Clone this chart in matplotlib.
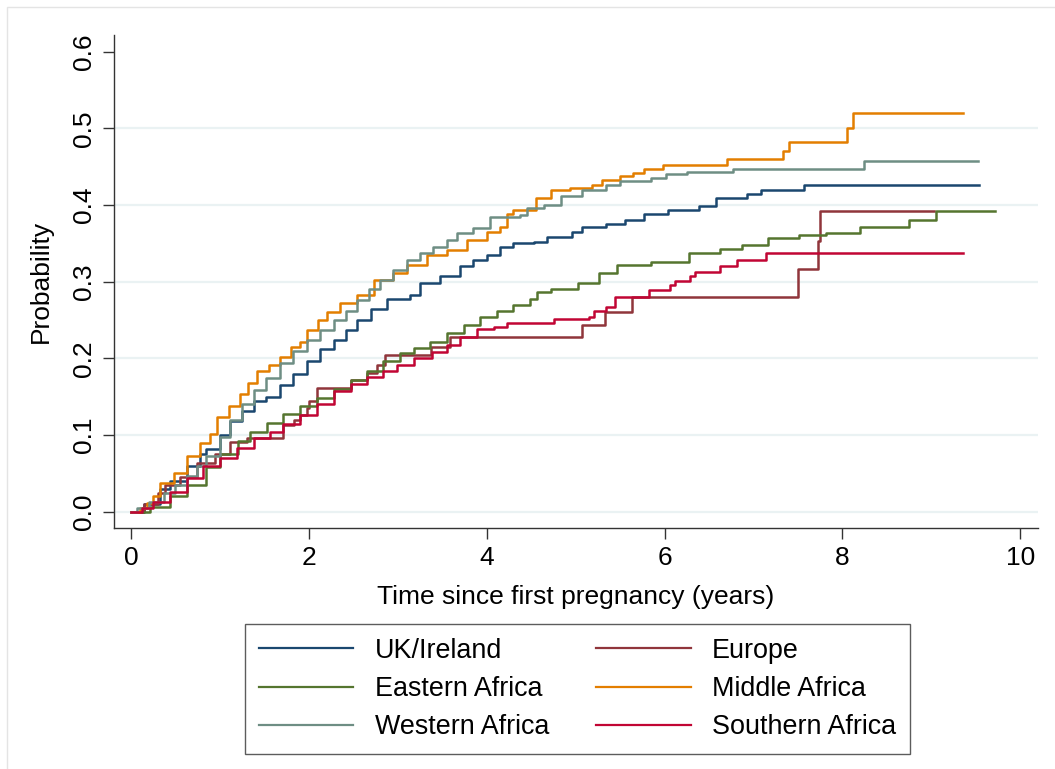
import numpy as np
import matplotlib
matplotlib.use("Agg")
import matplotlib.pyplot as plt
from matplotlib.patches import Rectangle

plt.rcParams['font.family'] = ['Liberation Sans', 'DejaVu Sans']

# Kaplan-Meier failure estimates: step times (years) and cumulative probability
uk_t = [0, 0.15, 0.33, 0.44, 0.63, 0.78, 0.85, 1.0, 1.12, 1.25, 1.38, 1.52, 1.68, 1.82, 1.98,
        2.13, 2.28, 2.42, 2.54, 2.70, 2.88, 3.14, 3.25, 3.48, 3.70, 3.85, 4.00, 4.15, 4.30,
        4.53, 4.68, 4.96, 5.07, 5.34, 5.56, 5.77, 6.04, 6.39, 6.58, 6.93, 7.08, 7.57, 9.54]
uk_p = [0, 0.010, 0.030, 0.040, 0.059, 0.075, 0.082, 0.100, 0.118, 0.132, 0.144, 0.150, 0.165,
        0.180, 0.197, 0.212, 0.224, 0.237, 0.250, 0.265, 0.278, 0.283, 0.298, 0.307, 0.320,
        0.328, 0.335, 0.346, 0.350, 0.352, 0.359, 0.365, 0.372, 0.376, 0.380, 0.388, 0.394,
        0.399, 0.409, 0.414, 0.420, 0.426, 0.426]

eur_t = [0, 0.15, 0.30, 0.38, 0.55, 0.74, 0.95, 1.12, 1.31, 1.71, 1.83, 1.90, 1.98, 2.00, 2.09,
         2.47, 2.65, 2.77, 2.86, 3.38, 3.59, 5.07, 5.33, 5.63, 7.50, 7.73, 7.75, 9.03]
eur_p = [0, 0.010, 0.025, 0.035, 0.045, 0.064, 0.075, 0.091, 0.096, 0.113, 0.120, 0.126, 0.135,
         0.144, 0.161, 0.172, 0.181, 0.191, 0.204, 0.215, 0.228, 0.244, 0.260, 0.280, 0.316,
         0.353, 0.392, 0.392]

east_t = [0, 0.22, 0.44, 0.63, 0.85, 1.00, 1.20, 1.34, 1.53, 1.71, 1.90, 2.09, 2.28, 2.47, 2.65,
          2.84, 3.03, 3.18, 3.36, 3.55, 3.74, 3.93, 4.12, 4.30, 4.49, 4.57, 4.72, 5.03, 5.26,
          5.46, 5.85, 6.27, 6.62, 6.87, 7.16, 7.51, 7.82, 8.20, 8.75, 9.05, 9.71]
east_p = [0, 0.006, 0.020, 0.035, 0.058, 0.075, 0.092, 0.104, 0.116, 0.127, 0.138, 0.148, 0.160,
          0.172, 0.184, 0.196, 0.207, 0.213, 0.222, 0.233, 0.244, 0.254, 0.262, 0.270, 0.277,
          0.287, 0.291, 0.299, 0.312, 0.322, 0.326, 0.338, 0.343, 0.348, 0.357, 0.361, 0.364,
          0.371, 0.380, 0.392, 0.392]

mid_t = [0, 0.10, 0.18, 0.25, 0.33, 0.48, 0.63, 0.78, 0.89, 0.97, 1.10, 1.23, 1.32, 1.42, 1.55,
         1.68, 1.80, 1.90, 1.98, 2.10, 2.20, 2.35, 2.54, 2.73, 2.95, 3.10, 3.33, 3.55, 3.78,
         4.00, 4.15, 4.23, 4.30, 4.55, 4.72, 4.94, 5.19, 5.30, 5.50, 5.65, 5.77, 5.98, 6.70,
         7.33, 7.40, 8.05, 8.12, 9.35]
mid_p = [0, 0.005, 0.011, 0.020, 0.037, 0.050, 0.072, 0.089, 0.102, 0.124, 0.138, 0.154, 0.168,
         0.183, 0.192, 0.202, 0.215, 0.222, 0.237, 0.250, 0.261, 0.272, 0.283, 0.302, 0.311,
         0.322, 0.335, 0.341, 0.354, 0.365, 0.372, 0.389, 0.393, 0.409, 0.420, 0.422, 0.426,
         0.433, 0.438, 0.442, 0.447, 0.452, 0.460, 0.471, 0.483, 0.500, 0.520, 0.520]

west_t = [0, 0.07, 0.20, 0.37, 0.50, 0.63, 0.74, 0.85, 1.00, 1.12, 1.25, 1.38, 1.52, 1.68, 1.82,
          1.98, 2.13, 2.28, 2.42, 2.54, 2.68, 2.80, 2.95, 3.10, 3.25, 3.40, 3.55, 3.67, 3.85,
          4.04, 4.37, 4.45, 4.65, 4.84, 5.07, 5.34, 5.50, 5.85, 6.02, 6.25, 6.77, 8.24, 9.52]
west_p = [0, 0.005, 0.012, 0.024, 0.035, 0.046, 0.060, 0.072, 0.098, 0.120, 0.140, 0.159, 0.175,
          0.194, 0.210, 0.224, 0.237, 0.250, 0.262, 0.276, 0.290, 0.302, 0.315, 0.328, 0.337,
          0.346, 0.355, 0.363, 0.370, 0.385, 0.387, 0.396, 0.400, 0.412, 0.420, 0.426, 0.432,
          0.436, 0.441, 0.443, 0.447, 0.457, 0.457]

south_t = [0, 0.12, 0.25, 0.44, 0.63, 0.81, 1.00, 1.19, 1.38, 1.57, 1.71, 1.90, 2.09, 2.28, 2.47,
           2.65, 2.84, 2.99, 3.18, 3.39, 3.55, 3.70, 3.89, 4.08, 4.23, 4.76, 5.15, 5.21, 5.34,
           5.44, 5.83, 6.06, 6.12, 6.29, 6.34, 6.62, 6.81, 7.14, 9.36]
south_p = [0, 0.005, 0.013, 0.026, 0.044, 0.059, 0.070, 0.083, 0.096, 0.104, 0.115, 0.126, 0.141,
           0.157, 0.167, 0.176, 0.183, 0.191, 0.200, 0.209, 0.217, 0.228, 0.238, 0.241, 0.246,
           0.251, 0.254, 0.262, 0.267, 0.280, 0.289, 0.296, 0.301, 0.307, 0.313, 0.320, 0.328,
           0.338, 0.338]

series = [
    ("UK/Ireland", uk_t, uk_p, "#1a476f"),
    ("Europe", eur_t, eur_p, "#90353b"),
    ("Eastern Africa", east_t, east_p, "#55752f"),
    ("Middle Africa", mid_t, mid_p, "#e37e00"),
    ("Western Africa", west_t, west_p, "#6e8e84"),
    ("Southern Africa", south_t, south_p, "#c10534"),
]

FS = 19

fig = plt.figure(figsize=(10.55, 7.69), dpi=100)
ax = fig.add_axes([0.108, 0.3134, 0.876, 0.6411])

for y in np.arange(0, 0.55, 0.1):
    ax.axhline(y, color="#eaf2f3", lw=1.6, zorder=0)

lines = {}
for name, t, p, col in series:
    ln, = ax.plot(t, p, drawstyle="steps-post", color=col, lw=1.8, label=name)
    lines[name] = ln

ax.set_xlim(-0.19, 10.2)
ax.set_ylim(-0.0213, 0.622)
ax.set_xticks(np.arange(0, 11, 2))
ax.set_yticks(np.arange(0, 0.61, 0.1))
ax.set_yticklabels([f"{v:.1f}" for v in np.arange(0, 0.61, 0.1)], rotation=90, va="center")
ax.tick_params(axis="both", direction="out", length=8, width=1, color="#333333",
               labelsize=FS, pad=5)
for s in ["top", "right"]:
    ax.spines[s].set_visible(False)
for s in ["left", "bottom"]:
    ax.spines[s].set_color("#333333")
    ax.spines[s].set_linewidth(1)

ax.set_xlabel("Time since first pregnancy (years)", fontsize=FS, labelpad=11)
ax.set_ylabel("Probability", fontsize=FS, labelpad=14)

order = ["UK/Ireland", "Eastern Africa", "Western Africa",
         "Europe", "Middle Africa", "Southern Africa"]
leg = fig.legend([lines[n] for n in order], order, loc="center",
                 bbox_to_anchor=(0.5474, 0.1040), ncol=2, fontsize=19.4,
                 frameon=True, fancybox=False, edgecolor="#333333",
                 handlelength=3.5, handletextpad=0.8, columnspacing=1.75,
                 labelspacing=0.46, borderpad=0.5, borderaxespad=0)
leg.get_frame().set_linewidth(1)
for h in leg.legend_handles:
    h.set_linewidth(1.6)

# light outer frame of the graph region
fig.patches.append(Rectangle((0.0066, -0.1), 1.2, 1.091, transform=fig.transFigure,
                             fill=False, edgecolor="#e4e4e4", lw=1))

fig.savefig("out.png", dpi=100)
